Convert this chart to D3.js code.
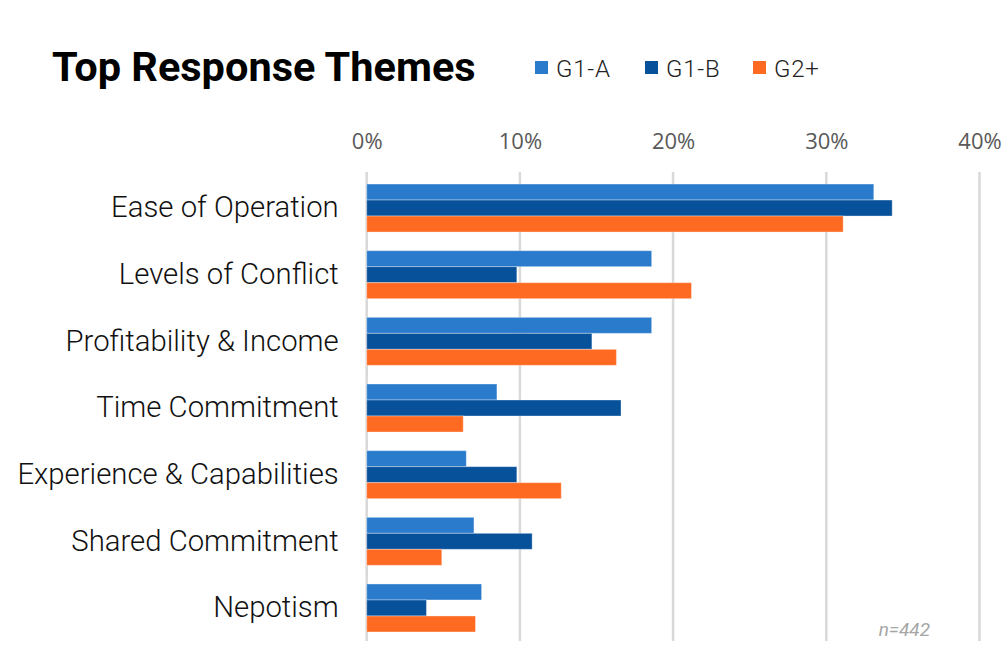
<!DOCTYPE html>
<html>
<head>
<meta charset="utf-8">
<script src="https://cdn.jsdelivr.net/npm/d3@7"></script>
<style>
  body { margin: 0; background: #fff; }
  svg { display: block; }
</style>
</head>
<body>
<script>
// values (percent)
let categories = ["Ease of Operation", "Levels of Conflict", "Profitability & Income", "Time Commitment",
                  "Experience & Capabilities", "Shared Commitment", "Nepotism"]
let seriesNames = ["G1-A", "G1-B", "G2+"]
let g1a = [33.1, 18.6, 18.6, 8.5, 6.5, 7.0, 7.5]
let g1b = [34.3, 9.8, 14.7, 16.6, 9.8, 10.8, 3.9]
let g2 = [31.1, 21.2, 16.3, 6.3, 12.7, 4.9, 7.1]
let ticks = [0, 10, 20, 30, 40]
let colors = ["#2a7bcc", "#07519b", "#ff6a22"]

let series = [g1a, g1b, g2]
let w = 1004, h = 646

let svg = d3.select("body").append("svg")
            .attr("width", w)
            .attr("height", h)

let xScale = d3.scaleLinear().domain([0, 40]).range([366.7, 979.5])
let yScale = d3.scaleBand().domain(categories).range([174.7, 641.3]).paddingInner(0.28).paddingOuter(0.14)
let inner = d3.scaleBand().domain(seriesNames).range([0, yScale.bandwidth()])

// gridlines
svg.append("g").selectAll("line")
    .data(ticks)
    .enter().append("line")
    .attr("x1", d=>xScale(d)).attr("x2", d=>xScale(d))
    .attr("y1", 172).attr("y2", 641)
    .attr("stroke", "#d9d9d9").attr("stroke-width", 2.5)

// top axis labels
let xAxis = d3.axisTop(xScale).tickValues(ticks).tickFormat(d=>d + "%").tickSize(0).tickPadding(0)
let ax = svg.append("g")
    .attr("transform", "translate(0,149)")
    .call(xAxis)
ax.select(".domain").remove()
ax.selectAll("text")
    .attr("font-family", "'Open Sans', sans-serif")
    .attr("font-size", 22)
    .attr("fill", "#595959")
    .attr("dy", 0)

// bars
let rows = []
categories.forEach((c, i)=>{
    seriesNames.forEach((s, j)=>rows.push({cat: c, name: s, value: series[j][i], color: colors[j]}))
})
svg.append("g").selectAll("rect")
    .data(rows)
    .enter().append("rect")
    .attr("x", xScale(0))
    .attr("y", d=>yScale(d.cat) + inner(d.name))
    .attr("width", d=>xScale(d.value) - xScale(0))
    .attr("height", inner.bandwidth())
    .attr("fill", d=>d.color)
    .attr("stroke", "#ffffff").attr("stroke-opacity", 0.35).attr("stroke-width", 1)

// category labels
let yAxis = d3.axisLeft(yScale).tickSize(0).tickPadding(28)
let ay = svg.append("g")
    .attr("transform", "translate(" + xScale(0) + ",0)")
    .call(yAxis)
ay.select(".domain").remove()
ay.selectAll("text")
    .attr("font-family", "Roboto, sans-serif")
    .attr("font-weight", 300)
    .attr("font-size", 29.3)
    .attr("fill", "#111")

// title
svg.append("text")
    .attr("x", 52).attr("y", 81)
    .attr("font-family", "Roboto, sans-serif")
    .attr("font-weight", 700)
    .attr("font-size", 41.5)
    .attr("fill", "#000")
    .text("Top Response Themes")

// legend
let legendX = [535, 645, 753]
let lg = svg.append("g").selectAll("g")
    .data(seriesNames)
    .enter().append("g")
    .attr("transform", (d, i)=>"translate(" + legendX[i] + ",0)")
lg.append("rect")
    .attr("x", 0).attr("y", 61)
    .attr("width", 13).attr("height", 13)
    .attr("fill", (d, i)=>colors[i])
lg.append("text")
    .attr("x", 21).attr("y", 77)
    .attr("font-family", "Roboto, sans-serif")
    .attr("font-weight", 300)
    .attr("font-size", 24)
    .attr("letter-spacing", 0.8)
    .attr("fill", "#222")
    .text(d=>d)

// sample size note
svg.append("text")
    .attr("x", 930).attr("y", 636)
    .attr("text-anchor", "end")
    .attr("font-family", "Roboto, sans-serif")
    .attr("font-style", "italic")
    .attr("font-size", 19)
    .attr("fill", "#a6a6a6")
    .text("n=442")
</script>
</body>
</html>
